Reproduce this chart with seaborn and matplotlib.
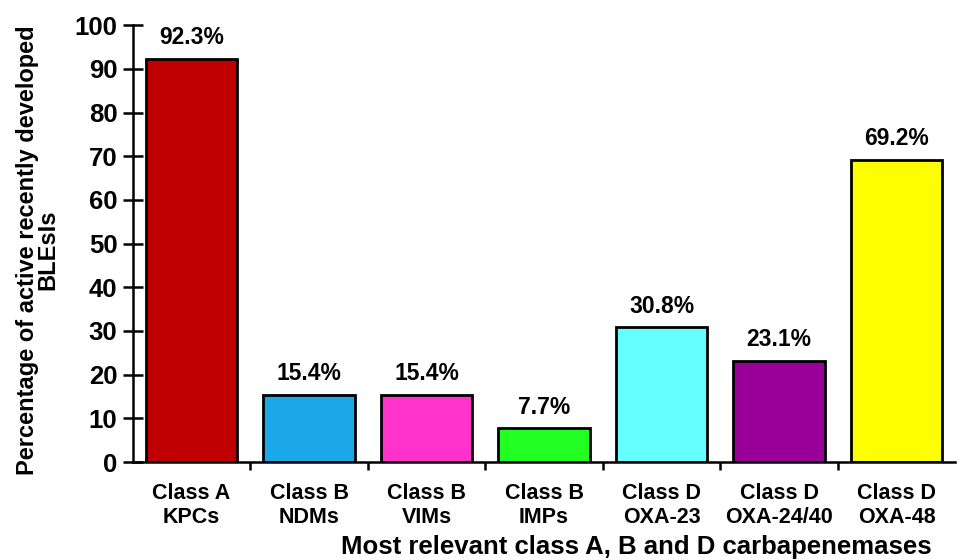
import matplotlib
matplotlib.use("Agg")
import matplotlib.pyplot as plt
import seaborn as sns
import pandas as pd
from matplotlib.ticker import FixedLocator

categories = ["Class A\nKPCs", "Class B\nNDMs", "Class B\nVIMs", "Class B\nIMPs",
              "Class D\nOXA-23", "Class D\nOXA-24/40", "Class D\nOXA-48"]
values = [92.3, 15.4, 15.4, 7.7, 30.8, 23.1, 69.2]
colors = ["#C00000", "#1BA8E8", "#FF33CC", "#22FF22", "#66FFFF", "#990099", "#FFFF00"]
yticks = [0, 10, 20, 30, 40, 50, 60, 70, 80, 90, 100]

sns.set_style("white")
plt.rcParams['font.family'] = ['Liberation Sans', 'DejaVu Sans']
plt.rcParams['font.weight'] = 'bold'
plt.rcParams['text.color'] = 'black'
plt.rcParams['axes.labelcolor'] = 'black'
plt.rcParams['xtick.color'] = 'black'
plt.rcParams['ytick.color'] = 'black'

df = pd.DataFrame({"cat": categories, "val": values})

fig = plt.figure(figsize=(9.62, 5.6), dpi=100)
ax = fig.add_axes([0.138, 0.175, 0.855, 0.78])
sns.barplot(data=df, x="cat", y="val", hue="cat", palette=colors, dodge=False,
            saturation=1, width=0.78, edgecolor="black", linewidth=2,
            legend=False, ax=ax)

for c in ax.containers:
    ax.bar_label(c, fmt="%.1f%%", padding=7, fontsize=16.5, fontweight="bold")

ax.set_ylim(0, 100)
ax.set_xlim(-0.5, len(categories) - 0.5)
ax.set_yticks(yticks)
ax.tick_params(axis="y", direction="inout", length=14, width=1.8, labelsize=18.5, pad=4, left=True)
ax.tick_params(axis="x", which="major", length=0, labelsize=15.5, pad=15)
ax.xaxis.set_minor_locator(FixedLocator([i + 0.5 for i in range(len(categories) - 1)]))
ax.tick_params(axis="x", which="minor", direction="out", length=6, width=1.8, bottom=True)
for lab in ax.get_xticklabels() + ax.get_yticklabels():
    lab.set_fontweight("bold")

for s in ["top", "right"]:
    ax.spines[s].set_visible(False)
for s in ["left", "bottom"]:
    ax.spines[s].set_linewidth(1.8)
    ax.spines[s].set_color("black")

ax.set_ylabel("Percentage of active recently developed\nBLEsIs", fontsize=17, fontweight="bold",
              linespacing=0.88)
ax.yaxis.set_label_coords(-0.089, 0.485)
ax.set_xlabel("Most relevant class A, B and D carbapenemases", fontsize=18.5, fontweight="bold")
ax.xaxis.set_label_coords(0.612, -0.167)

fig.savefig("out.png", dpi=100)
